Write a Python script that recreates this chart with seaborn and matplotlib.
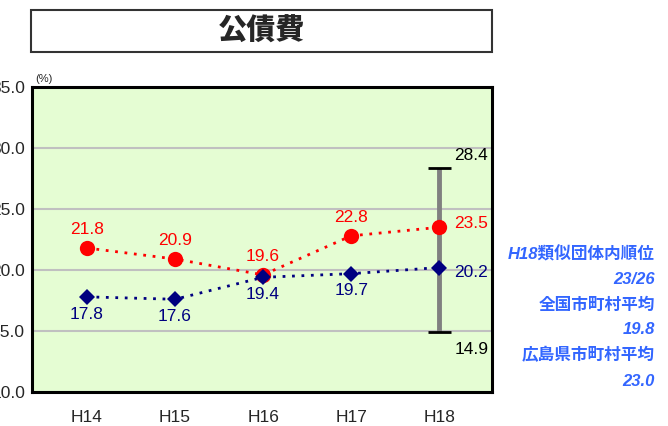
import matplotlib
matplotlib.use("Agg")
import matplotlib.pyplot as plt
import seaborn as sns
import pandas as pd
from matplotlib.patches import Rectangle

# Data
years = ["H14", "H15", "H16", "H17", "H18"]
town_values = [21.8, 20.9, 19.6, 22.8, 23.5]
group_avg_values = [17.8, 17.6, 19.4, 19.7, 20.2]
range_max = 28.4
range_min = 14.9
y_ticks = [10.0, 15.0, 20.0, 25.0, 30.0, 35.0]
title = "公債費"
side_texts = ["H18類似団体内順位", "23/26", "全国市町村平均", "19.8", "広島県市町村平均", "23.0"]

sns.set_theme(style="white")
plt.rcParams["font.family"] = ["Liberation Sans", "Noto Sans CJK JP", "DejaVu Sans"]

df = pd.DataFrame({
    "year": years * 2,
    "value": town_values + group_avg_values,
    "series": ["town"] * len(years) + ["group"] * len(years),
})
df["pos"] = df["year"].map({y: i for i, y in enumerate(years)})

W, H = 668, 426
fig = plt.figure(figsize=(W / 100, H / 100), dpi=100)
ax = fig.add_axes([32 / W, 1 - 392 / H, (492 - 32) / W, (392 - 87) / H])
ax.set_facecolor("#E5FDD3")

red = "#FF0000"
navy = "#000080"
fs = 12.5

# range bar for H18
last = len(years) - 1
ax.vlines(last, range_min, range_max, color="#808080", lw=3.5, zorder=2)
ax.hlines([range_min, range_max], last - 0.13, last + 0.13, color="black", lw=2, zorder=3)

sns.lineplot(data=df[df.series == "town"], x="pos", y="value", ax=ax, color=red,
             linestyle=(0, (1, 2.4)), lw=2, marker="o", markersize=11,
             markeredgewidth=0, zorder=4)
sns.lineplot(data=df[df.series == "group"], x="pos", y="value", ax=ax, color=navy,
             linestyle=(0, (1, 2.4)), lw=2, marker="D", markersize=8.5,
             markeredgewidth=0, zorder=5)

# value labels
for i, v in enumerate(town_values):
    if i == last:
        ax.text(i + 0.17, v + 0.3, f"{v:.1f}", color=red, fontsize=fs, ha="left", va="center")
    else:
        ax.text(i, v + 0.9, f"{v:.1f}", color=red, fontsize=fs, ha="center", va="bottom")
for i, v in enumerate(group_avg_values):
    if i == last:
        ax.text(i + 0.17, v - 0.4, f"{v:.1f}", color=navy, fontsize=fs, ha="left", va="center")
    else:
        ax.text(i, v - 0.8, f"{v:.1f}", color=navy, fontsize=fs, ha="center", va="top")
ax.text(last + 0.17, range_max + 1.0, f"{range_max:.1f}", color="black", fontsize=fs, ha="left", va="center")
ax.text(last + 0.17, range_min - 1.4, f"{range_min:.1f}", color="black", fontsize=fs, ha="left", va="center")

ax.set_ylim(10, 35)
ax.set_yticks(y_ticks)
ax.set_yticklabels([f"{t:.1f}" for t in y_ticks], fontsize=fs)
ax.set_xlim(-0.625, 4.6)
ax.set_xticks(range(len(years)))
ax.set_xticklabels(years, fontsize=fs)
ax.tick_params(axis="both", length=0, pad=5)
ax.tick_params(axis="x", pad=13)
ax.set_xlabel("")
ax.set_ylabel("")
ax.grid(axis="y", color="#C0C0C0", lw=1.5)
ax.set_axisbelow(True)
for s in ax.spines.values():
    s.set_color("black")
    s.set_linewidth(2.2)

ax.text(0.008, 1.01, "(%)", transform=ax.transAxes, fontsize=8, ha="left", va="bottom")

# title box
fig.patches.append(Rectangle((31 / W, 1 - 52 / H), (492 - 31) / W, 42 / H,
                             transform=fig.transFigure, facecolor="white",
                             edgecolor="#333333", lw=1.5))
fig.text(262 / W, 1 - 31 / H, title, fontsize=21, fontweight="heavy",
         family=["Noto Sans CJK JP"], ha="center", va="center")

# side notes
side_y = [254, 280, 305, 330, 355, 381]
for t, yy in zip(side_texts, side_y):
    fig.text(655 / W, 1 - yy / H, t, fontsize=12, fontweight="bold", style="italic",
             color="#3366FF", ha="right", va="center",
             family=["Liberation Sans", "Noto Sans CJK JP", "DejaVu Sans"])

fig.savefig("out.png", dpi=100)
